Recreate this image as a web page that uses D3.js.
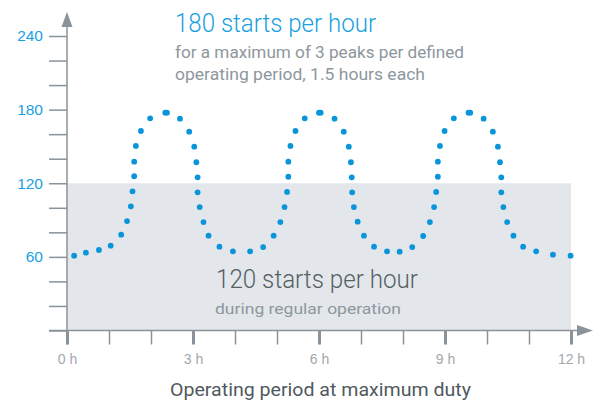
<!DOCTYPE html>
<html>
<head>
<meta charset="utf-8">
<script src="https://cdn.jsdelivr.net/npm/d3@7"></script>
<style>
  body { margin: 0; background: #fff; }
  svg { display: block; font-family: Roboto, "Open Sans", sans-serif; }
</style>
</head>
<body>
<div id="chart"></div>
<script>
// starts per hour over a 12 h operating period
var hours = [0.17, 0.45, 0.76, 1.04, 1.29, 1.43, 1.52, 1.56, 1.6, 1.6, 1.64, 1.76, 1.98, 2.34, 2.38, 2.69,
  2.91, 3.03, 3.08, 3.11, 3.11, 3.16, 3.25, 3.37, 3.63, 3.95, 4.36, 4.67, 4.92, 5.08, 5.18, 5.24,
  5.27, 5.27, 5.32, 5.44, 5.66, 6.0, 6.04, 6.37, 6.59, 6.71, 6.76, 6.78, 6.79, 6.83, 6.92, 7.07,
  7.31, 7.62, 7.92, 8.22, 8.48, 8.64, 8.74, 8.79, 8.83, 8.83, 8.88, 8.99, 9.21, 9.56, 9.6, 9.92,
  10.14, 10.26, 10.31, 10.34, 10.34, 10.39, 10.48, 10.63, 10.86, 11.17, 11.57, 11.99];
var starts = [61, 63.4, 65.6, 69.1, 78.1, 89.2, 101.2, 113.4, 125.7, 137.6, 150.4, 162.6, 172.9, 177.5, 177.5, 172.6,
  162, 149.8, 137.1, 124.8, 112.6, 100.6, 88.4, 77.3, 68.3, 64.5, 64.5, 68, 77.3, 88.4, 100.6, 112.9,
  125.3, 137.6, 150.4, 162.6, 172.9, 177.5, 177.5, 172.6, 162, 149.8, 137.1, 124.8, 112.6, 100.6, 88.7, 77.3,
  68.3, 64.5, 64.2, 68, 77, 88.4, 100.6, 112.9, 125.3, 137.6, 150.4, 162.6, 172.9, 177.5, 177.5, 172.6,
  162, 149.8, 137.1, 124.8, 112.6, 100.6, 88.4, 77.3, 68.3, 64.5, 61.8, 61];

var yTicks = [0, 20, 40, 60, 80, 100, 120, 140, 160, 180, 200, 220, 240];
var yLabels = [60, 120, 180, 240];
var xTicks = [0, 1, 2, 3, 4, 5, 6, 7, 8, 9, 10, 11, 12];
var xLabels = [0, 3, 6, 9, 12];
var regularLimit = 120;

var width = 597, height = 403;
var svg = d3.select('#chart').append('svg')
  .attr('width', width)
  .attr('height', height);

var x = d3.scaleLinear().domain([0, 12]).range([67, 571]);
var y = d3.scaleLinear().domain([0, 240]).range([330.5, 36]);

var axisColor = '#8a9399';

// grey band for regular operation
svg.append('rect')
  .attr('x', x(0))
  .attr('y', y(regularLimit))
  .attr('width', x(12) - x(0))
  .attr('height', y(0) - y(regularLimit))
  .attr('fill', '#e3e7eb');

// y axis
var yAxis = svg.append('g')
  .attr('transform', 'translate(' + x(0) + ',0)')
  .call(d3.axisLeft(y)
    .tickValues(yTicks)
    .tickSize(18)
    .tickPadding(6)
    .tickFormat(function(d) { return yLabels.indexOf(d) >= 0 ? d : ''; }));
yAxis.select('.domain').remove();
yAxis.selectAll('line').attr('stroke', axisColor).attr('stroke-width', 1.5);
yAxis.selectAll('text')
  .attr('fill', '#1a9fe0')
  .style('font-size', '15.5px');

// x axis
var xAxis = svg.append('g')
  .attr('transform', 'translate(0,' + y(0) + ')')
  .call(d3.axisBottom(x)
    .tickValues(xTicks)
    .tickSize(14)
    .tickPadding(10)
    .tickFormat(function(d) { return xLabels.indexOf(d) >= 0 ? d + ' h' : ''; }));
xAxis.select('.domain').remove();
xAxis.selectAll('line')
  .attr('stroke', axisColor)
  .attr('stroke-width', function(d) { return xLabels.indexOf(d) >= 0 ? 3 : 1.5; });
xAxis.selectAll('text')
  .attr('fill', '#a2a8ac')
  .style('font-size', '14px');

// axis lines with arrow heads
svg.append('line')
  .attr('x1', x(0)).attr('x2', x(0))
  .attr('y1', y(0) + 14).attr('y2', 26)
  .attr('stroke', axisColor).attr('stroke-width', 1.5);
svg.append('path')
  .attr('d', 'M' + (x(0) - 5.5) + ',27L' + x(0) + ',12L' + (x(0) + 5.5) + ',27Z')
  .attr('fill', axisColor);

svg.append('line')
  .attr('x1', 49).attr('x2', 578)
  .attr('y1', y(0)).attr('y2', y(0))
  .attr('stroke', axisColor).attr('stroke-width', 1.5);
svg.append('path')
  .attr('d', 'M577,' + (y(0) - 5.5) + 'L593,' + y(0) + 'L577,' + (y(0) + 5.5) + 'Z')
  .attr('fill', axisColor);

// dots
svg.append('g').selectAll('circle')
  .data(hours)
  .enter()
  .append('circle')
  .attr('cx', function(d) { return x(d); })
  .attr('cy', function(d, i) { return y(starts[i]); })
  .attr('r', 2.9)
  .attr('fill', '#0a95da');

// annotations - widths fitted to the reference lettering
var label = function(px, py, txt, size, weight, color, len) {
  svg.append('text')
    .attr('x', px).attr('y', py)
    .attr('fill', color)
    .attr('textLength', len)
    .attr('lengthAdjust', 'spacingAndGlyphs')
    .style('font-size', size + 'px')
    .style('font-weight', weight)
    .text(txt);
};

label(175, 31.5, '180 starts per hour', 25, 300, '#1a9fe0', 201);
label(175, 58, 'for a maximum of 3 peaks per defined', 17, 400, '#8d979d', 289);
label(175, 80, 'operating period, 1.5 hours each', 17, 400, '#8d979d', 250);

label(216, 287.5, '120 starts per hour', 25, 300, '#565f64', 202);
label(215, 313.5, 'during regular operation', 15.5, 400, '#8d979d', 186);

label(170, 396, 'Operating period at maximum duty', 19, 400, '#50595e', 301);
</script>
</body>
</html>
